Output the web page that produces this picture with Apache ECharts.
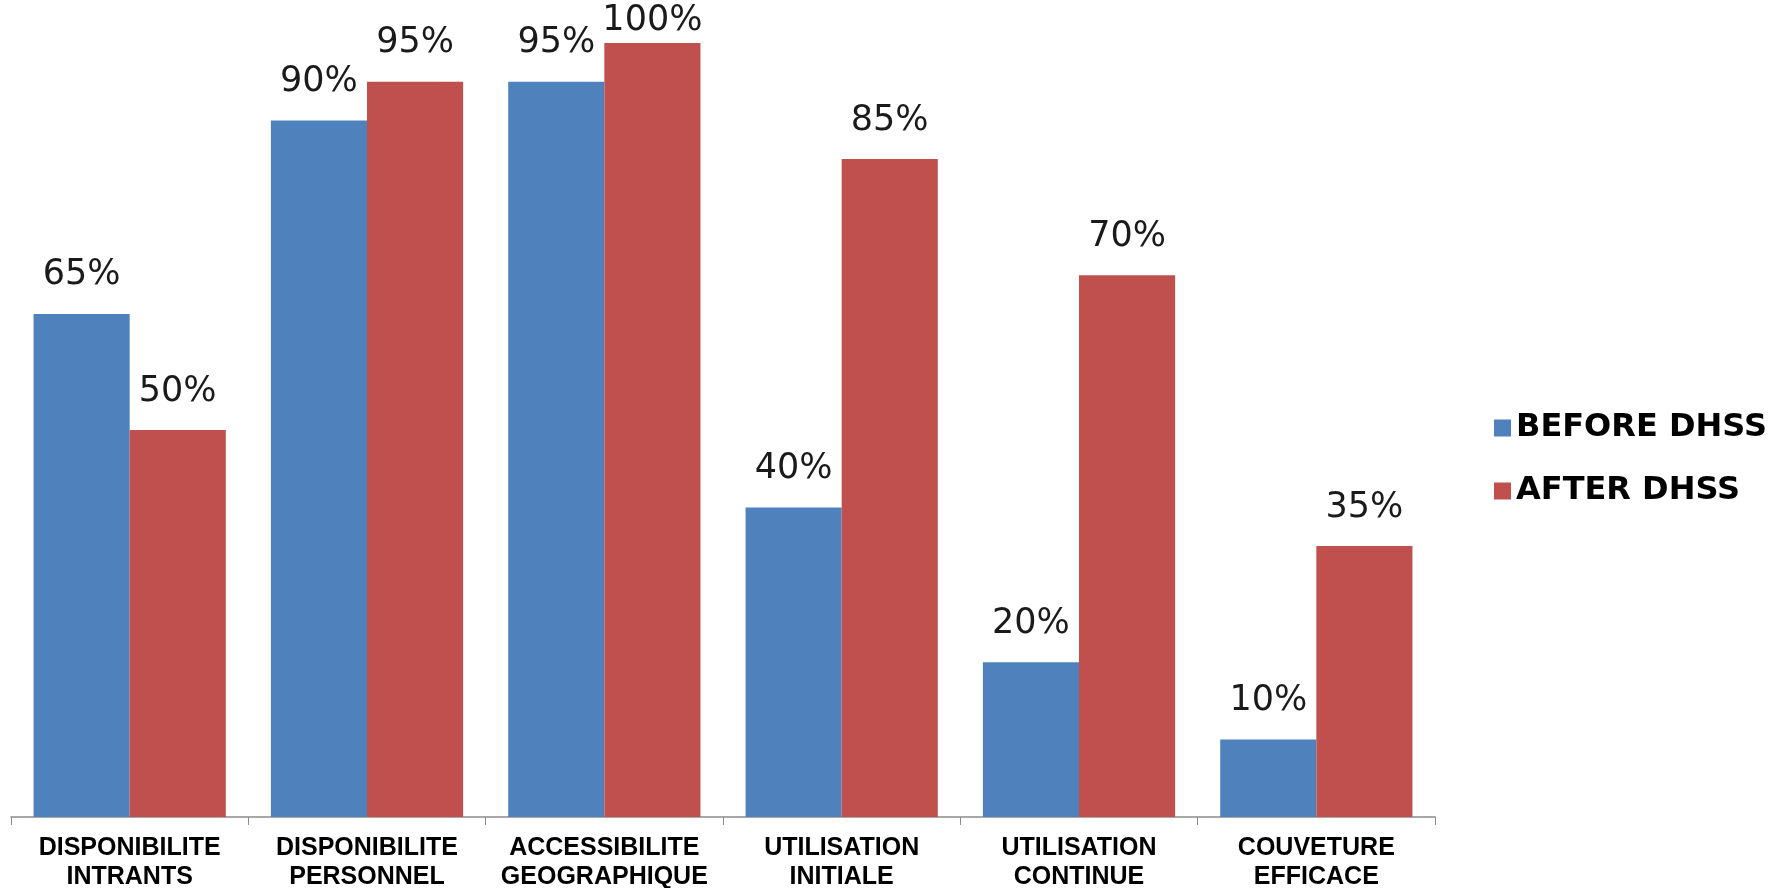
<!DOCTYPE html>
<html>
<head>
<meta charset="utf-8">
<script src="https://cdn.jsdelivr.net/npm/echarts@6/dist/echarts.min.js"></script>
<style>
html,body{margin:0;padding:0;background:#fff;}
#chart{width:1789px;height:888px;}
</style>
</head>
<body>
<div id="chart"></div>
<script>
const categories = [
  "DISPONIBILITE\nINTRANTS",
  "DISPONIBILITE\nPERSONNEL",
  "ACCESSIBILITE\nGEOGRAPHIQUE",
  "UTILISATION\nINITIALE",
  "UTILISATION\nCONTINUE",
  "COUVETURE\nEFFICACE"
];
const beforeDHSS = [65, 90, 95, 40, 20, 10];
const afterDHSS = [50, 95, 100, 85, 70, 35];
const seriesNames = ["BEFORE DHSS", "AFTER DHSS"];

const chart = echarts.init(document.getElementById('chart'));
function mk(vals){
  return vals.map(v => v >= 100 ? {value: v, label: {distance: 5}} : v);
}
const labelStyle = {
  show: true, position: 'top', distance: 21,
  formatter: '{c}%', fontFamily: 'DejaVu Sans', fontSize: 35, color: '#1a1a1a'
};
chart.setOption({
  animation: false,
  grid: {left: 11, right: 354, top: 43, bottom: 71, containLabel: false, outerBoundsMode: 'none'},
  legend: {
    orient: 'vertical', left: 1489, top: 407,
    itemWidth: 17, itemHeight: 17, itemGap: 31, icon: 'rect',
    textStyle: {fontFamily: 'DejaVu Sans', fontWeight: 'bold', fontSize: 32, color: '#000'},
    data: seriesNames
  },
  xAxis: {
    type: 'category', data: categories,
    axisLine: {lineStyle: {color: '#8c8c8c', width: 1.5}},
    axisTick: {show: true, length: 8, lineStyle: {color: '#8c8c8c'}},
    axisLabel: {
      interval: 0, margin: 17, fontFamily: 'Liberation Sans', fontWeight: 'bold',
      fontSize: 25, lineHeight: 29, color: '#000'
    }
  },
  yAxis: {type: 'value', min: 0, max: 100, show: false, splitLine: {show: false}},
  series: [
    {name: seriesNames[0], type: 'bar', data: mk(beforeDHSS), barGap: '0%', barCategoryGap: '19%',
     itemStyle: {color: '#4F81BD'}, label: labelStyle},
    {name: seriesNames[1], type: 'bar', data: mk(afterDHSS), barGap: '0%', barCategoryGap: '19%',
     itemStyle: {color: '#C0504D'}, label: labelStyle}
  ]
});
</script>
</body>
</html>
